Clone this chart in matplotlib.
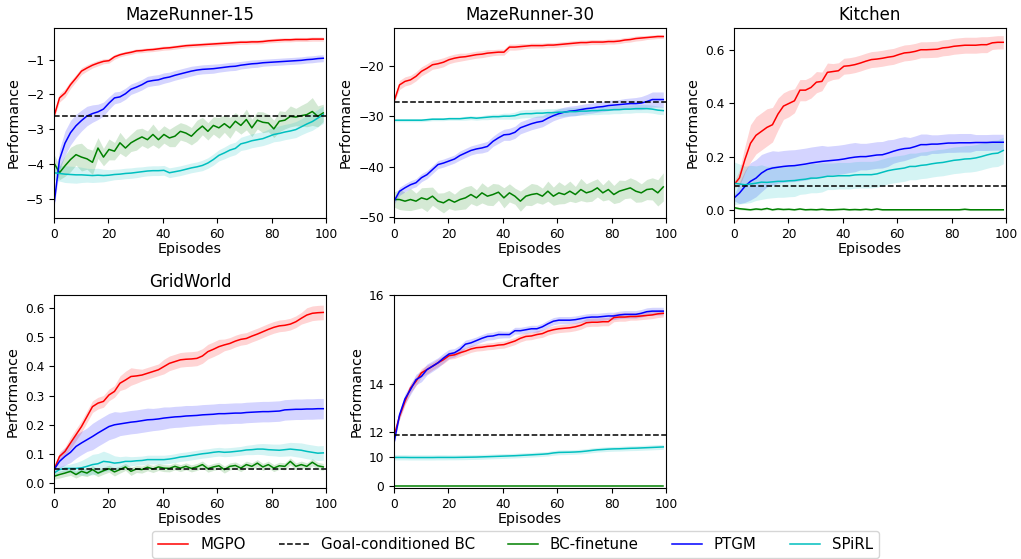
import numpy as np
import matplotlib
matplotlib.use("Agg")
from matplotlib import pyplot as plt

# Episodios (50 puntos entre 0 y 99)
episodes = np.linspace(0, 99, 50)

# ---------------- MazeRunner-15 ----------------
mr15_mgpo = [-2.63, -2.10, -1.96, -1.72, -1.53, -1.33, -1.24, -1.16, -1.10, -1.05,
             -1.03, -0.92, -0.86, -0.82, -0.79, -0.75, -0.74, -0.72, -0.71, -0.69,
             -0.67, -0.66, -0.64, -0.62, -0.60, -0.59, -0.58, -0.57, -0.56, -0.55,
             -0.54, -0.53, -0.52, -0.51, -0.50, -0.50, -0.49, -0.49, -0.48, -0.46,
             -0.45, -0.44, -0.43, -0.43, -0.42, -0.42, -0.42, -0.41, -0.41, -0.41]
mr15_mgpo_sd = [0.05, 0.12, 0.12, 0.11, 0.10, 0.10, 0.09, 0.08, 0.08, 0.07,
                0.07, 0.07, 0.06, 0.06, 0.06, 0.06, 0.06, 0.06, 0.06, 0.06,
                0.06, 0.06, 0.06, 0.06, 0.06, 0.06, 0.06, 0.06, 0.06, 0.06,
                0.06, 0.06, 0.06, 0.06, 0.06, 0.06, 0.06, 0.06, 0.06, 0.06,
                0.06, 0.06, 0.06, 0.06, 0.06, 0.06, 0.06, 0.06, 0.06, 0.06]
mr15_ptgm = [-5.16, -3.87, -3.40, -3.10, -2.90, -2.75, -2.62, -2.55, -2.50, -2.42,
             -2.25, -2.10, -2.07, -1.98, -1.85, -1.79, -1.72, -1.63, -1.60, -1.58,
             -1.53, -1.50, -1.45, -1.41, -1.37, -1.33, -1.30, -1.28, -1.27, -1.26,
             -1.24, -1.22, -1.20, -1.19, -1.16, -1.14, -1.12, -1.11, -1.09, -1.08,
             -1.07, -1.06, -1.05, -1.04, -1.03, -1.02, -1.00, -0.99, -0.97, -0.96]
mr15_ptgm_sd = [0.10, 0.30, 0.35, 0.35, 0.33, 0.30, 0.28, 0.25, 0.22, 0.20,
                0.18, 0.17, 0.16, 0.16, 0.15, 0.15, 0.15, 0.15, 0.15, 0.15,
                0.15, 0.14, 0.14, 0.14, 0.14, 0.14, 0.13, 0.13, 0.13, 0.13,
                0.12, 0.12, 0.12, 0.12, 0.11, 0.11, 0.11, 0.11, 0.10, 0.10,
                0.10, 0.10, 0.10, 0.10, 0.10, 0.10, 0.10, 0.10, 0.10, 0.10]
mr15_bcft = [-3.97, -4.25, -4.05, -3.87, -3.73, -3.80, -3.85, -3.95, -3.54, -3.80,
             -3.58, -3.63, -3.39, -3.54, -3.39, -3.30, -3.22, -3.30, -3.15, -3.30,
             -3.15, -3.25, -3.20, -3.06, -3.11, -3.20, -3.04, -2.91, -3.06, -2.89,
             -2.96, -2.84, -2.96, -2.77, -2.89, -2.72, -2.96, -2.74, -2.80, -2.82,
             -2.99, -2.77, -2.74, -2.63, -2.65, -2.61, -2.58, -2.49, -2.63, -2.53]
mr15_bcft_sd = [0.25, 0.20, 0.30, 0.35, 0.30, 0.40, 0.30, 0.35, 0.30, 0.25,
                0.30, 0.25, 0.30, 0.25, 0.25, 0.30, 0.25, 0.25, 0.30, 0.25,
                0.25, 0.25, 0.30, 0.25, 0.25, 0.25, 0.30, 0.25, 0.25, 0.25,
                0.30, 0.25, 0.30, 0.25, 0.25, 0.30, 0.25, 0.25, 0.30, 0.25,
                0.25, 0.30, 0.25, 0.30, 0.25, 0.30, 0.35, 0.40, 0.30, 0.25]
mr15_spirl = [-4.25, -4.27, -4.29, -4.30, -4.31, -4.31, -4.32, -4.33, -4.32, -4.33,
              -4.32, -4.30, -4.29, -4.27, -4.26, -4.24, -4.22, -4.20, -4.19, -4.19,
              -4.18, -4.25, -4.22, -4.19, -4.15, -4.11, -4.08, -4.04, -3.97, -3.87,
              -3.75, -3.68, -3.60, -3.55, -3.42, -3.38, -3.33, -3.30, -3.27, -3.21,
              -3.15, -3.12, -3.08, -3.05, -3.01, -2.93, -2.85, -2.78, -2.68, -2.58]
mr15_spirl_sd = [0.20, 0.22, 0.24, 0.24, 0.24, 0.22, 0.20, 0.20, 0.20, 0.18,
                 0.16, 0.15, 0.15, 0.15, 0.15, 0.15, 0.14, 0.14, 0.14, 0.14,
                 0.14, 0.14, 0.14, 0.14, 0.14, 0.14, 0.14, 0.15, 0.15, 0.16,
                 0.16, 0.17, 0.18, 0.18, 0.19, 0.20, 0.20, 0.20, 0.20, 0.21,
                 0.21, 0.22, 0.22, 0.22, 0.23, 0.23, 0.24, 0.25, 0.25, 0.25]
mr15_bc = -2.62

# ---------------- MazeRunner-30 ----------------
mr30_mgpo = [-27.06, -23.8, -23.1, -22.8, -22.1, -21.1, -20.5, -19.8, -19.6, -19.3,
             -18.8, -18.5, -18.3, -18.2, -18.0, -17.8, -17.7, -17.5, -17.4, -17.3,
             -17.3, -16.3, -16.3, -16.2, -16.1, -16.0, -16.0, -16.0, -15.9, -15.9,
             -15.8, -15.7, -15.6, -15.5, -15.4, -15.4, -15.3, -15.3, -15.3, -15.2,
             -15.2, -15.1, -14.9, -14.8, -14.6, -14.5, -14.4, -14.3, -14.2, -14.2]
mr30_mgpo_sd = [0.3, 0.9, 0.9, 0.9, 0.9, 0.9, 0.9, 0.9, 0.9, 0.9,
                0.8, 0.8, 0.8, 0.7, 0.7, 0.7, 0.7, 0.7, 0.6, 0.6,
                0.6, 0.6, 0.6, 0.6, 0.5, 0.5, 0.5, 0.5, 0.5, 0.5,
                0.5, 0.5, 0.5, 0.5, 0.5, 0.5, 0.5, 0.5, 0.5, 0.5,
                0.5, 0.5, 0.5, 0.5, 0.5, 0.5, 0.4, 0.4, 0.4, 0.4]
mr30_ptgm = [-46.9, -44.9, -44.2, -43.6, -43.2, -42.2, -41.6, -40.6, -39.6, -39.3,
             -38.9, -38.5, -37.8, -37.3, -36.8, -36.5, -36.3, -36.0, -35.0, -34.3,
             -33.7, -33.6, -33.2, -32.3, -31.9, -31.5, -31.2, -31.0, -30.4, -29.9,
             -29.5, -29.2, -29.0, -28.9, -28.7, -28.5, -28.4, -28.2, -28.1, -27.9,
             -27.8, -27.7, -27.6, -27.5, -27.5, -27.4, -27.1, -26.7, -26.7, -26.7]
mr30_ptgm_sd = [0.6, 0.8, 0.8, 0.8, 0.8, 0.8, 0.8, 0.8, 0.8, 0.8,
                0.8, 0.8, 0.9, 0.9, 0.9, 0.9, 1.0, 1.0, 1.0, 1.1,
                1.1, 1.2, 1.2, 1.2, 1.2, 1.2, 1.2, 1.1, 1.1, 1.0,
                1.0, 1.0, 1.0, 1.0, 1.0, 1.0, 1.0, 1.0, 1.0, 1.0,
                1.0, 1.0, 1.1, 1.1, 1.2, 1.3, 1.4, 1.5, 1.5, 1.5]
mr30_bcft = [-46.53, -46.53, -46.86, -46.53, -46.86, -46.20, -46.53, -45.87, -46.86, -47.19,
             -46.53, -47.06, -46.53, -46.20, -45.54, -46.20, -45.21, -45.87, -45.54, -45.08,
             -46.20, -45.21, -45.87, -46.86, -45.87, -45.54, -45.35, -45.87, -44.88, -45.87,
             -45.21, -45.54, -44.88, -45.54, -44.55, -45.21, -44.88, -44.22, -45.21, -44.55,
             -45.54, -44.88, -44.55, -44.22, -44.88, -45.21, -44.55, -44.42, -45.21, -44.03]
mr30_bcft_sd = [1.5, 2.0, 1.8, 2.2, 1.6, 2.0, 2.4, 1.8, 1.6, 2.0,
                1.8, 1.6, 2.0, 2.2, 1.8, 1.6, 2.0, 1.8, 2.2, 1.6,
                2.0, 1.8, 1.6, 2.0, 1.8, 2.2, 1.8, 1.6, 2.0, 1.8,
                2.2, 1.8, 2.0, 1.6, 2.2, 1.8, 2.0, 1.8, 1.6, 2.0,
                1.8, 2.2, 1.8, 2.0, 2.2, 1.8, 2.0, 2.2, 2.6, 2.8]
mr30_spirl = [-30.8, -30.8, -30.8, -30.8, -30.8, -30.8, -30.7, -30.6, -30.6, -30.6,
              -30.5, -30.5, -30.5, -30.4, -30.3, -30.4, -30.3, -30.2, -30.1, -30.1,
              -30.0, -30.0, -29.9, -29.6, -29.5, -29.5, -29.4, -29.4, -29.3, -29.3,
              -29.2, -29.2, -29.1, -29.1, -29.0, -29.0, -28.9, -28.9, -28.8, -28.8,
              -28.7, -28.7, -28.6, -28.6, -28.5, -28.5, -28.5, -28.6, -28.8, -28.9]
mr30_spirl_sd = [0.3, 0.3, 0.3, 0.3, 0.3, 0.3, 0.3, 0.3, 0.3, 0.3,
                 0.3, 0.3, 0.3, 0.4, 0.4, 0.4, 0.4, 0.5, 0.5, 0.5,
                 0.6, 0.6, 0.7, 0.8, 0.8, 0.8, 0.8, 0.8, 0.8, 0.8,
                 0.8, 0.8, 0.8, 0.8, 0.8, 0.8, 0.8, 0.8, 0.8, 0.8,
                 0.8, 0.8, 0.8, 0.8, 0.8, 0.8, 0.8, 0.8, 0.8, 0.8]
mr30_bc = -27.1

# ---------------- Kitchen ----------------
kit_mgpo = [0.094, 0.120, 0.190, 0.250, 0.280, 0.295, 0.310, 0.320, 0.360, 0.390,
            0.400, 0.410, 0.450, 0.450, 0.460, 0.480, 0.483, 0.517, 0.520, 0.523,
            0.540, 0.542, 0.546, 0.552, 0.559, 0.565, 0.567, 0.570, 0.574, 0.577,
            0.584, 0.590, 0.592, 0.596, 0.602, 0.602, 0.603, 0.604, 0.609, 0.611,
            0.615, 0.617, 0.619, 0.619, 0.619, 0.621, 0.621, 0.628, 0.630, 0.630]
kit_mgpo_sd = [0.010, 0.030, 0.050, 0.070, 0.070, 0.070, 0.070, 0.065, 0.060, 0.050,
               0.050, 0.045, 0.040, 0.040, 0.040, 0.040, 0.035, 0.035, 0.030, 0.030,
               0.030, 0.030, 0.030, 0.030, 0.030, 0.030, 0.030, 0.030, 0.030, 0.030,
               0.030, 0.030, 0.030, 0.030, 0.030, 0.030, 0.030, 0.030, 0.030, 0.030,
               0.030, 0.030, 0.030, 0.030, 0.030, 0.030, 0.030, 0.025, 0.025, 0.025]
kit_ptgm = [0.044, 0.063, 0.088, 0.107, 0.119, 0.138, 0.151, 0.157, 0.160, 0.163,
            0.165, 0.166, 0.169, 0.172, 0.176, 0.179, 0.182, 0.184, 0.186, 0.188,
            0.191, 0.195, 0.198, 0.200, 0.200, 0.203, 0.206, 0.207, 0.213, 0.220,
            0.226, 0.230, 0.232, 0.238, 0.245, 0.245, 0.247, 0.247, 0.249, 0.251,
            0.251, 0.252, 0.252, 0.252, 0.253, 0.253, 0.253, 0.254, 0.254, 0.254]
kit_ptgm_sd = [0.010, 0.040, 0.060, 0.070, 0.070, 0.070, 0.065, 0.065, 0.060, 0.060,
               0.060, 0.060, 0.060, 0.060, 0.060, 0.060, 0.060, 0.055, 0.055, 0.055,
               0.055, 0.055, 0.055, 0.050, 0.050, 0.050, 0.050, 0.050, 0.050, 0.045,
               0.045, 0.045, 0.040, 0.040, 0.040, 0.040, 0.035, 0.035, 0.035, 0.035,
               0.035, 0.035, 0.035, 0.035, 0.030, 0.030, 0.030, 0.030, 0.030, 0.030]
kit_bcft = [0.008, 0.004, 0.002, 0.000, 0.003, 0.001, 0.005, 0.000, 0.003, 0.001,
            0.002, 0.000, 0.003, 0.000, 0.001, 0.000, 0.002, 0.000, 0.000, 0.001,
            0.002, 0.000, 0.001, 0.000, 0.002, 0.000, 0.003, 0.000, 0.000, 0.000,
            0.000, 0.000, 0.000, 0.000, 0.000, 0.000, 0.000, 0.000, 0.000, 0.000,
            0.000, 0.000, 0.002, 0.000, 0.000, 0.000, 0.000, 0.000, 0.000, 0.000]
kit_bcft_sd = [0.004, 0.004, 0.004, 0.003, 0.004, 0.003, 0.004, 0.003, 0.004, 0.003,
               0.003, 0.003, 0.003, 0.003, 0.003, 0.003, 0.003, 0.003, 0.003, 0.003,
               0.003, 0.003, 0.003, 0.003, 0.003, 0.003, 0.003, 0.003, 0.003, 0.003,
               0.003, 0.003, 0.003, 0.003, 0.003, 0.003, 0.003, 0.003, 0.003, 0.003,
               0.003, 0.003, 0.003, 0.003, 0.003, 0.003, 0.003, 0.003, 0.003, 0.003]
kit_spirl = [0.100, 0.097, 0.094, 0.097, 0.100, 0.104, 0.103, 0.105, 0.107, 0.107,
             0.109, 0.110, 0.113, 0.115, 0.119, 0.119, 0.122, 0.126, 0.126, 0.128,
             0.128, 0.128, 0.131, 0.132, 0.132, 0.132, 0.135, 0.141, 0.147, 0.151,
             0.154, 0.157, 0.163, 0.163, 0.167, 0.169, 0.173, 0.176, 0.178, 0.182,
             0.186, 0.188, 0.191, 0.192, 0.195, 0.200, 0.206, 0.211, 0.213, 0.223]
kit_spirl_sd = [0.080, 0.075, 0.070, 0.070, 0.065, 0.065, 0.060, 0.060, 0.060, 0.060,
                0.060, 0.060, 0.055, 0.055, 0.055, 0.055, 0.055, 0.050, 0.050, 0.050,
                0.050, 0.050, 0.050, 0.050, 0.050, 0.050, 0.050, 0.050, 0.050, 0.050,
                0.050, 0.050, 0.050, 0.050, 0.050, 0.050, 0.050, 0.050, 0.050, 0.050,
                0.050, 0.050, 0.050, 0.050, 0.050, 0.050, 0.050, 0.050, 0.050, 0.050]
kit_bc = 0.09

# ---------------- GridWorld ----------------
grid_mgpo = [0.047, 0.092, 0.109, 0.138, 0.166, 0.194, 0.228, 0.262, 0.274, 0.280,
             0.302, 0.314, 0.342, 0.353, 0.365, 0.367, 0.370, 0.376, 0.382, 0.388,
             0.399, 0.410, 0.416, 0.422, 0.424, 0.425, 0.427, 0.435, 0.450, 0.458,
             0.467, 0.473, 0.478, 0.486, 0.492, 0.495, 0.503, 0.510, 0.518, 0.526,
             0.533, 0.538, 0.540, 0.544, 0.552, 0.564, 0.575, 0.581, 0.583, 0.584]
grid_mgpo_sd = [0.005, 0.015, 0.015, 0.020, 0.020, 0.020, 0.020, 0.020, 0.020, 0.020,
                0.020, 0.020, 0.025, 0.030, 0.030, 0.025, 0.020, 0.020, 0.020, 0.020,
                0.025, 0.025, 0.025, 0.025, 0.025, 0.025, 0.025, 0.025, 0.025, 0.025,
                0.025, 0.020, 0.020, 0.020, 0.020, 0.020, 0.020, 0.020, 0.020, 0.020,
                0.020, 0.020, 0.020, 0.020, 0.020, 0.020, 0.025, 0.025, 0.025, 0.025]
grid_ptgm = [0.047, 0.075, 0.092, 0.106, 0.126, 0.138, 0.149, 0.160, 0.172, 0.183,
             0.194, 0.200, 0.203, 0.206, 0.209, 0.211, 0.214, 0.217, 0.218, 0.220,
             0.223, 0.225, 0.227, 0.228, 0.230, 0.231, 0.232, 0.234, 0.235, 0.236,
             0.238, 0.238, 0.239, 0.240, 0.240, 0.242, 0.243, 0.244, 0.245, 0.245,
             0.246, 0.247, 0.251, 0.252, 0.253, 0.253, 0.254, 0.254, 0.255, 0.255]
grid_ptgm_sd = [0.010, 0.025, 0.030, 0.035, 0.040, 0.040, 0.040, 0.045, 0.045, 0.045,
                0.045, 0.045, 0.040, 0.040, 0.040, 0.040, 0.040, 0.040, 0.038, 0.038,
                0.038, 0.036, 0.036, 0.036, 0.036, 0.035, 0.035, 0.035, 0.035, 0.035,
                0.035, 0.035, 0.035, 0.035, 0.035, 0.035, 0.035, 0.035, 0.035, 0.035,
                0.035, 0.035, 0.035, 0.035, 0.035, 0.035, 0.035, 0.035, 0.035, 0.035]
grid_bcft = [0.024, 0.030, 0.035, 0.041, 0.030, 0.041, 0.035, 0.047, 0.035, 0.043,
             0.050, 0.039, 0.047, 0.056, 0.041, 0.049, 0.047, 0.055, 0.049, 0.056,
             0.052, 0.051, 0.058, 0.052, 0.058, 0.051, 0.056, 0.064, 0.050, 0.056,
             0.060, 0.047, 0.058, 0.061, 0.052, 0.064, 0.058, 0.069, 0.056, 0.064,
             0.052, 0.060, 0.058, 0.075, 0.058, 0.064, 0.058, 0.072, 0.060, 0.056]
grid_bcft_sd = [0.010, 0.012, 0.012, 0.014, 0.012, 0.014, 0.012, 0.014, 0.012, 0.012,
                0.012, 0.014, 0.012, 0.012, 0.014, 0.012, 0.012, 0.012, 0.012, 0.012,
                0.012, 0.012, 0.012, 0.012, 0.012, 0.012, 0.012, 0.012, 0.012, 0.012,
                0.012, 0.012, 0.012, 0.012, 0.012, 0.012, 0.012, 0.012, 0.012, 0.012,
                0.012, 0.012, 0.012, 0.012, 0.012, 0.012, 0.012, 0.012, 0.012, 0.012]
grid_spirl = [0.035, 0.047, 0.051, 0.051, 0.051, 0.053, 0.058, 0.064, 0.067, 0.075,
              0.073, 0.069, 0.071, 0.075, 0.075, 0.077, 0.078, 0.081, 0.081, 0.081,
              0.081, 0.083, 0.086, 0.090, 0.092, 0.095, 0.098, 0.101, 0.103, 0.106,
              0.108, 0.106, 0.107, 0.109, 0.111, 0.114, 0.115, 0.117, 0.117, 0.115,
              0.114, 0.113, 0.115, 0.117, 0.115, 0.113, 0.109, 0.106, 0.103, 0.104]
grid_spirl_sd = [0.008, 0.010, 0.012, 0.015, 0.020, 0.025, 0.030, 0.035, 0.035, 0.035,
                 0.030, 0.025, 0.020, 0.018, 0.016, 0.015, 0.015, 0.015, 0.015, 0.015,
                 0.015, 0.015, 0.015, 0.015, 0.015, 0.015, 0.015, 0.015, 0.015, 0.015,
                 0.015, 0.015, 0.015, 0.015, 0.015, 0.016, 0.017, 0.018, 0.019, 0.020,
                 0.020, 0.021, 0.022, 0.023, 0.024, 0.025, 0.025, 0.025, 0.025, 0.025]
grid_bc = 0.05

# ---------------- Crafter ----------------
craft_mgpo = [11.73, 12.79, 13.41, 13.87, 14.08, 14.33, 14.42, 14.51, 14.60, 14.68,
              14.78, 14.80, 14.85, 14.89, 14.94, 14.97, 14.98, 15.00, 15.01, 15.03,
              15.04, 15.08, 15.12, 15.18, 15.22, 15.23, 15.26, 15.28, 15.33, 15.36,
              15.38, 15.39, 15.40, 15.42, 15.45, 15.50, 15.51, 15.51, 15.52, 15.52,
              15.60, 15.61, 15.61, 15.62, 15.62, 15.63, 15.64, 15.65, 15.67, 15.68]
craft_mgpo_sd = [0.10, 0.15, 0.15, 0.15, 0.14, 0.12, 0.12, 0.10, 0.10, 0.10,
                 0.09, 0.09, 0.09, 0.08, 0.08, 0.08, 0.08, 0.08, 0.08, 0.08,
                 0.08, 0.08, 0.08, 0.08, 0.08, 0.08, 0.08, 0.08, 0.08, 0.08,
                 0.08, 0.08, 0.08, 0.08, 0.08, 0.08, 0.08, 0.08, 0.08, 0.08,
                 0.08, 0.08, 0.08, 0.07, 0.07, 0.07, 0.07, 0.07, 0.07, 0.07]
craft_ptgm = [11.27, 12.85, 13.50, 13.82, 14.13, 14.23, 14.42, 14.51, 14.60, 14.72,
              14.82, 14.85, 14.93, 15.05, 15.08, 15.13, 15.18, 15.22, 15.23, 15.26,
              15.26, 15.26, 15.34, 15.34, 15.36, 15.38, 15.38, 15.42, 15.48, 15.53,
              15.55, 15.55, 15.55, 15.56, 15.58, 15.60, 15.61, 15.61, 15.62, 15.63,
              15.63, 15.65, 15.66, 15.66, 15.66, 15.68, 15.71, 15.72, 15.72, 15.72]
craft_ptgm_sd = [0.10, 0.18, 0.18, 0.17, 0.16, 0.16, 0.15, 0.14, 0.13, 0.12,
                 0.11, 0.10, 0.10, 0.09, 0.09, 0.08, 0.08, 0.08, 0.08, 0.08,
                 0.07, 0.07, 0.07, 0.07, 0.07, 0.07, 0.07, 0.07, 0.07, 0.07,
                 0.07, 0.07, 0.07, 0.07, 0.07, 0.07, 0.07, 0.07, 0.07, 0.07,
                 0.07, 0.07, 0.07, 0.07, 0.07, 0.07, 0.07, 0.07, 0.07, 0.07]
craft_bcft = [0.0, 0.0, 0.0, 0.0, 0.0, 0.0, 0.0, 0.0, 0.0, 0.0,
              0.0, 0.0, 0.0, 0.0, 0.0, 0.0, 0.0, 0.0, 0.0, 0.0,
              0.0, 0.0, 0.0, 0.0, 0.0, 0.0, 0.0, 0.0, 0.0, 0.0,
              0.0, 0.0, 0.0, 0.0, 0.0, 0.0, 0.0, 0.0, 0.0, 0.0,
              0.0, 0.0, 0.0, 0.0, 0.0, 0.0, 0.0, 0.0, 0.0, 0.0]
craft_bcft_sd = [0.1, 0.1, 0.1, 0.1, 0.1, 0.1, 0.1, 0.1, 0.1, 0.1,
                 0.1, 0.1, 0.1, 0.1, 0.1, 0.1, 0.1, 0.1, 0.1, 0.1,
                 0.1, 0.1, 0.1, 0.1, 0.1, 0.1, 0.1, 0.1, 0.1, 0.1,
                 0.1, 0.1, 0.1, 0.1, 0.1, 0.1, 0.1, 0.1, 0.1, 0.1,
                 0.1, 0.1, 0.1, 0.1, 0.1, 0.1, 0.1, 0.1, 0.1, 0.1]
craft_spirl = [10.00, 10.00, 10.00, 9.99, 9.99, 9.99, 9.99, 9.99, 10.00, 10.00,
               10.00, 10.00, 10.01, 10.02, 10.03, 10.04, 10.06, 10.08, 10.10, 10.12,
               10.14, 10.16, 10.18, 10.21, 10.24, 10.27, 10.30, 10.33, 10.37, 10.45,
               10.50, 10.51, 10.52, 10.54, 10.57, 10.62, 10.68, 10.73, 10.76, 10.79,
               10.81, 10.82, 10.84, 10.86, 10.87, 10.89, 10.91, 10.93, 10.95, 10.97]
craft_spirl_sd = [0.28, 0.28, 0.28, 0.28, 0.28, 0.28, 0.28, 0.28, 0.28, 0.28,
                  0.27, 0.27, 0.27, 0.27, 0.26, 0.26, 0.26, 0.25, 0.25, 0.25,
                  0.25, 0.24, 0.24, 0.24, 0.23, 0.23, 0.23, 0.22, 0.22, 0.22,
                  0.22, 0.22, 0.21, 0.21, 0.21, 0.21, 0.21, 0.20, 0.20, 0.20,
                  0.20, 0.20, 0.20, 0.20, 0.20, 0.20, 0.20, 0.20, 0.20, 0.20]
craft_bc = 11.78

# Nombres y colores de los metodos
names = ["MGPO", "Goal-conditioned BC", "BC-finetune", "PTGM", "SPiRL"]
colors = {"MGPO": "red", "BC-finetune": "green", "PTGM": "blue", "SPiRL": "c"}

# Escala exponencial del eje y de Crafter
k = 0.31


def fwd(y):
    y = np.asarray(y, dtype=float)
    return np.where(y >= 0, np.expm1(k * np.clip(y, 0, None)), k * y)


def inv(u):
    u = np.asarray(u, dtype=float)
    return np.where(u >= 0, np.log1p(np.clip(u, 0, None)) / k, u / k)


def draw(ax, title, series, bc):
    for name in ["MGPO", "BC-finetune", "PTGM", "SPiRL"]:
        mean, sd = series[name]
        mean = np.array(mean)
        sd = np.array(sd)
        c = colors[name]
        ax.fill_between(episodes, mean - sd, mean + sd, color=c, alpha=0.17, linewidth=0)
        ax.plot(episodes, mean, color=c, linewidth=1.1, label=name)
    ax.axhline(bc, color="black", linestyle="--", linewidth=1.1, label="Goal-conditioned BC")
    ax.set_title(title, fontsize=12)
    ax.set_xlabel("Episodes", fontsize=10.4, labelpad=1)
    ax.set_ylabel("Performance", fontsize=10.4)
    ax.set_xlim(0, 100)
    ax.set_xticks([0, 20, 40, 60, 80, 100])
    ax.tick_params(labelsize=8.8)


fig = plt.figure(figsize=(10.21, 5.59), dpi=100)

lefts = [0.0529, 0.3859, 0.7189]
w = 0.2664
ax1 = fig.add_axes([lefts[0], 0.610, w, 0.340])
ax2 = fig.add_axes([lefts[1], 0.610, w, 0.340])
ax3 = fig.add_axes([lefts[2], 0.610, w, 0.340])
ax4 = fig.add_axes([lefts[0], 0.127, w, 0.345])
ax5 = fig.add_axes([lefts[1], 0.127, w, 0.345])

draw(ax1, "MazeRunner-15", {"MGPO": (mr15_mgpo, mr15_mgpo_sd), "BC-finetune": (mr15_bcft, mr15_bcft_sd),
                            "PTGM": (mr15_ptgm, mr15_ptgm_sd), "SPiRL": (mr15_spirl, mr15_spirl_sd)}, mr15_bc)
ax1.set_ylim(-5.55, -0.09)
ax1.set_yticks([-5, -4, -3, -2, -1])

draw(ax2, "MazeRunner-30", {"MGPO": (mr30_mgpo, mr30_mgpo_sd), "BC-finetune": (mr30_bcft, mr30_bcft_sd),
                            "PTGM": (mr30_ptgm, mr30_ptgm_sd), "SPiRL": (mr30_spirl, mr30_spirl_sd)}, mr30_bc)
ax2.set_ylim(-50.2, -12.5)
ax2.set_yticks([-50, -40, -30, -20])

draw(ax3, "Kitchen", {"MGPO": (kit_mgpo, kit_mgpo_sd), "BC-finetune": (kit_bcft, kit_bcft_sd),
                      "PTGM": (kit_ptgm, kit_ptgm_sd), "SPiRL": (kit_spirl, kit_spirl_sd)}, kit_bc)
ax3.set_ylim(-0.031, 0.684)
ax3.set_yticks([0.0, 0.2, 0.4, 0.6])

draw(ax4, "GridWorld", {"MGPO": (grid_mgpo, grid_mgpo_sd), "BC-finetune": (grid_bcft, grid_bcft_sd),
                        "PTGM": (grid_ptgm, grid_ptgm_sd), "SPiRL": (grid_spirl, grid_spirl_sd)}, grid_bc)
ax4.set_ylim(-0.016, 0.643)
ax4.set_yticks([0.0, 0.1, 0.2, 0.3, 0.4, 0.5, 0.6])

ax5.set_yscale("function", functions=(fwd, inv))
draw(ax5, "Crafter", {"MGPO": (craft_mgpo, craft_mgpo_sd), "BC-finetune": (craft_bcft, craft_bcft_sd),
                      "PTGM": (craft_ptgm, craft_ptgm_sd), "SPiRL": (craft_spirl, craft_spirl_sd)}, craft_bc)
ax5.set_ylim(-4.8, 16)
ax5.set_yticks([0, 10, 12, 14, 16])
ax5.set_yticklabels(["0", "10", "12", "14", "16"])

# Leyenda comun abajo
handles, labels = ax1.get_legend_handles_labels()
order = [labels.index(n) for n in names]
fig.legend([handles[i] for i in order], [labels[i] for i in order], loc="lower center",
           bbox_to_anchor=(0.505, -0.012), ncol=5, fontsize=10.8, columnspacing=2.2,
           frameon=True)

plt.savefig("out.png", dpi=100)
